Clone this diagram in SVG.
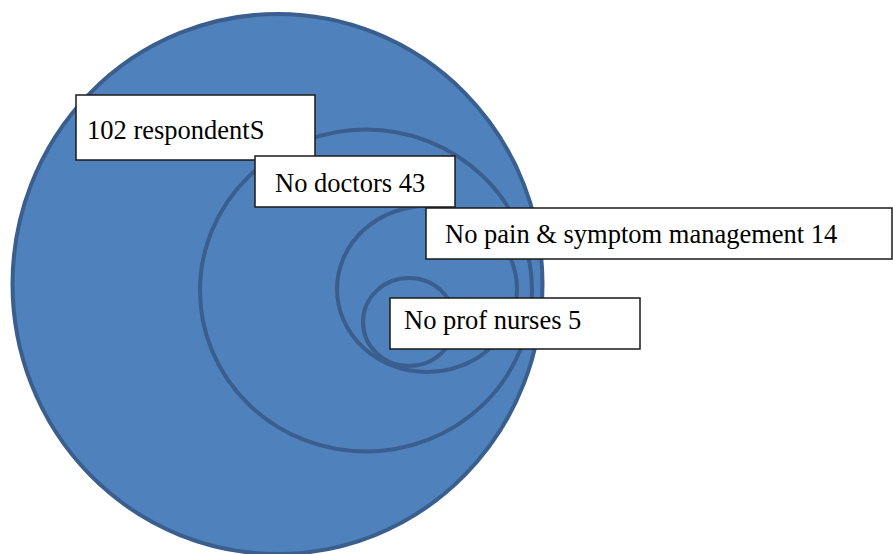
<svg xmlns="http://www.w3.org/2000/svg" width="893" height="554" viewBox="0 0 893 554">
<style>
.c{fill:#4f81bd;stroke:#3a5f8e;stroke-width:4}
.ci{fill:none;stroke:#3a5f8e;stroke-width:4}
.b{fill:#ffffff;stroke:#1a1a1a;stroke-width:1.5}
.t{font-size:26.5px;fill:#000000}
</style>
<rect width="893" height="554" fill="#ffffff"/>
<g id="respondents-circle"><ellipse class="c" cx="277.5" cy="284" rx="265" ry="270"/></g>
<g id="doctors-circle"><ellipse class="ci" cx="366" cy="290.5" rx="166" ry="161"/></g>
<g id="pain-circle"><ellipse class="ci" cx="427" cy="289" rx="90" ry="83"/></g>
<g id="nurses-circle"><ellipse class="ci" cx="409" cy="322" rx="46" ry="44"/></g>
<g id="connectors"></g>
<g font-family="Liberation Serif, serif">
<g id="label-respondents"><rect class="b" x="76" y="95" width="239" height="65"/><text class="t" x="87" y="139" style="font-family:'Liberation Serif',serif">102 respondentS</text></g>
<g id="label-doctors"><rect class="b" x="255" y="156" width="200" height="51"/><text class="t" x="275" y="192" style="font-family:'Liberation Serif',serif">No doctors 43</text></g>
<g id="label-pain"><rect class="b" x="426" y="208" width="466" height="51"/><text class="t" x="445" y="243" style="font-family:'Liberation Serif',serif">No pain &amp; symptom management 14</text></g>
<g id="label-nurses"><rect class="b" x="390" y="298" width="250" height="51"/><text class="t" x="404" y="329" style="font-family:'Liberation Serif',serif">No prof nurses 5</text></g>
</g>
</svg>
